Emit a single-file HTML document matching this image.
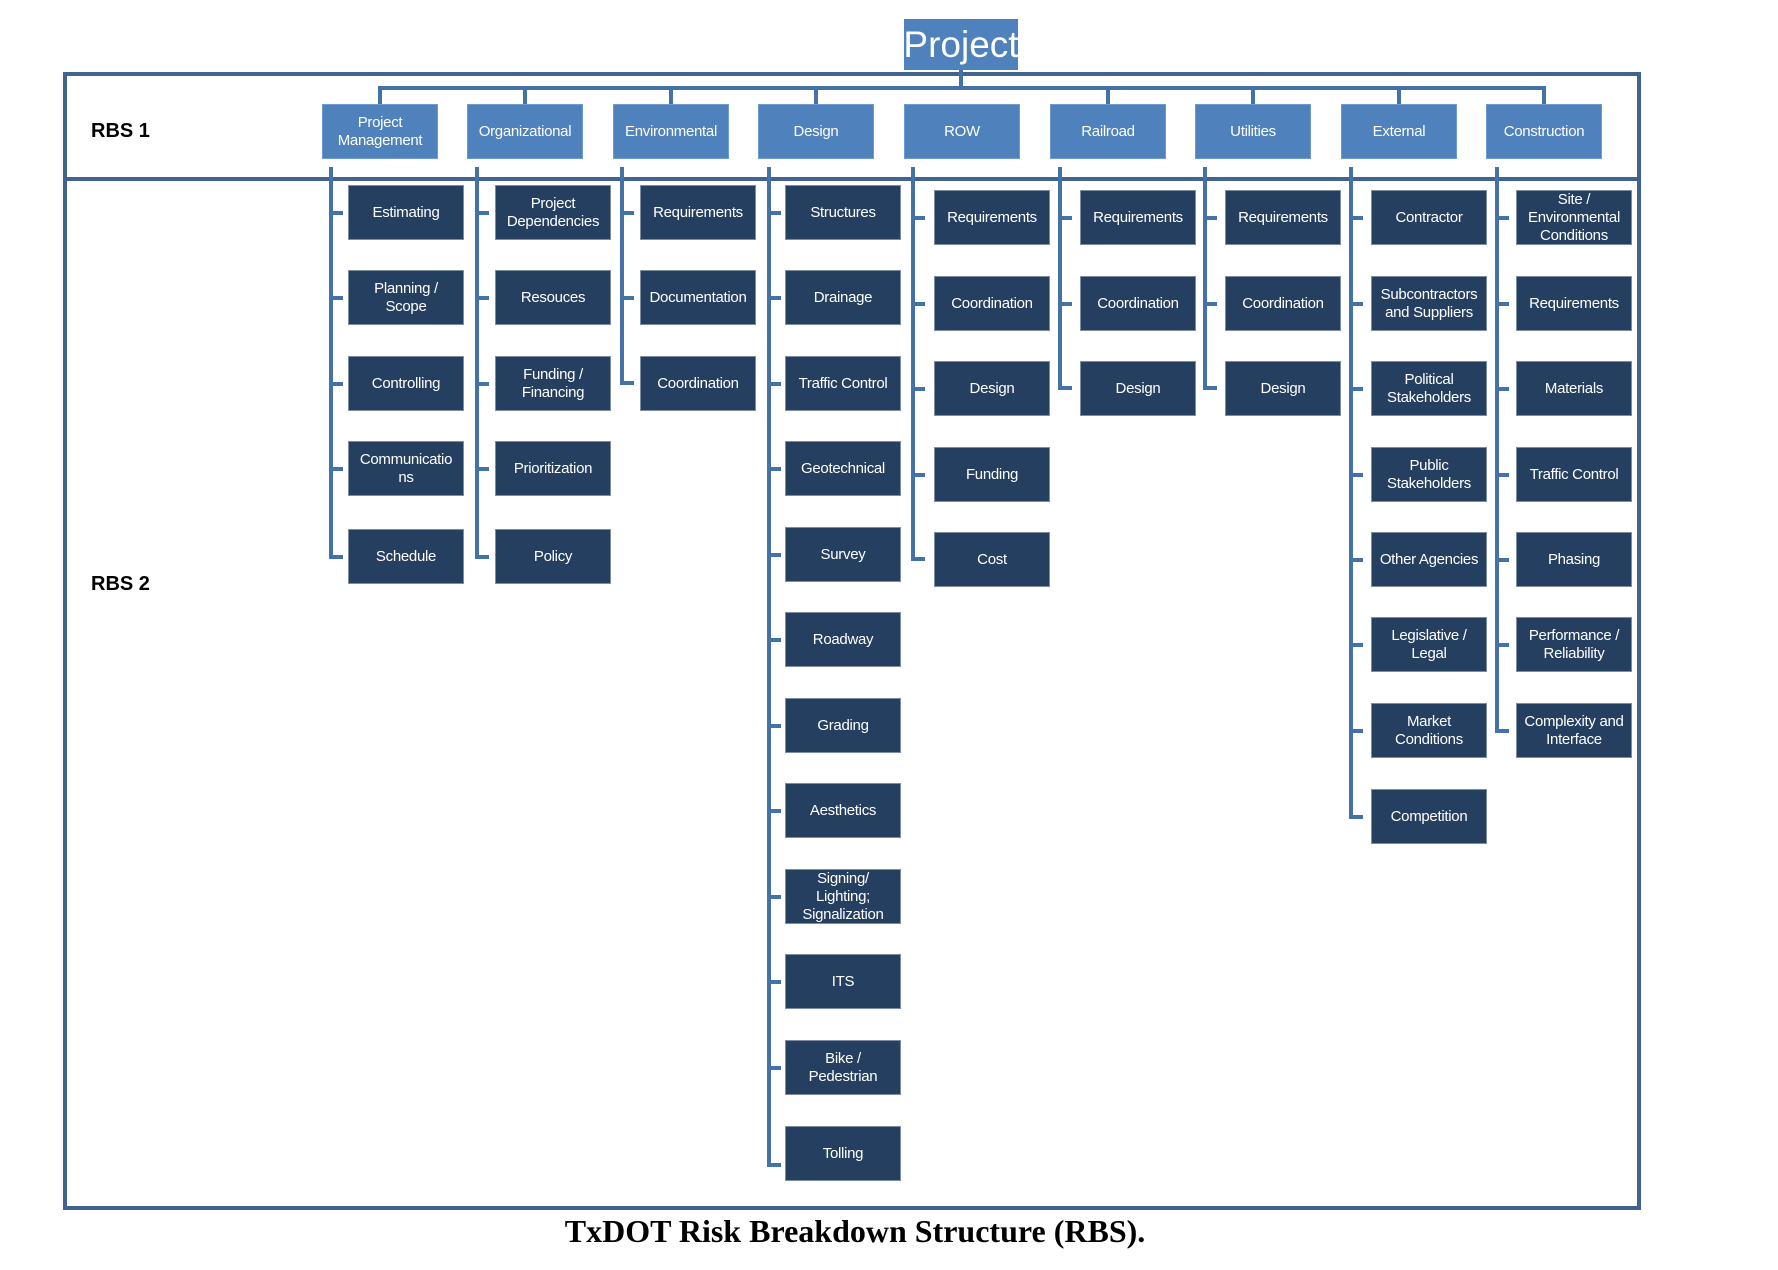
<!DOCTYPE html>
<html><head><meta charset="utf-8"><style>
body{margin:0;width:1778px;height:1270px;background:#fff;position:relative;overflow:hidden;font-family:"Liberation Sans",sans-serif}
div{position:absolute;box-sizing:border-box}
.l{background:#4472a8}
.b1{background:#4f81bd;color:#fff;width:116px;height:55px;display:flex;align-items:center;justify-content:center;text-align:center;font-size:15px;line-height:18px;letter-spacing:-0.3px;border:1px solid #6f9ad0}
.b2{background:#243f60;color:#fff;width:116px;height:55px;display:flex;align-items:center;justify-content:center;text-align:center;font-size:15px;line-height:18px;letter-spacing:-0.3px;border:1px solid #7d8ea3;overflow:visible;white-space:normal}
</style></head><body>
<div style="left:63px;top:72px;width:1578px;height:1138px;border:4px solid #40638f"></div>
<div class="l" style="left:63px;top:177px;width:1578px;height:4px;background:#40638f"></div>
<div style="left:91px;top:120px;font-size:20px;font-weight:bold;color:#000">RBS 1</div>
<div style="left:91px;top:573px;font-size:20px;font-weight:bold;color:#000">RBS 2</div>
<div style="left:904px;top:19px;width:114px;height:51px;background:#4f81bd;color:#fff;font-size:37px;display:flex;align-items:center;justify-content:center">Project</div>
<div class="l" style="left:959px;top:70px;width:4px;height:19px"></div>
<div class="l" style="left:378px;top:86px;width:1168px;height:4px"></div>
<div class="l" style="left:378px;top:86px;width:4px;height:18px"></div>
<div class="l" style="left:523px;top:86px;width:4px;height:18px"></div>
<div class="l" style="left:669px;top:86px;width:4px;height:18px"></div>
<div class="l" style="left:814px;top:86px;width:4px;height:18px"></div>
<div class="l" style="left:1106px;top:86px;width:4px;height:18px"></div>
<div class="l" style="left:1251px;top:86px;width:4px;height:18px"></div>
<div class="l" style="left:1397px;top:86px;width:4px;height:18px"></div>
<div class="l" style="left:1542px;top:86px;width:4px;height:18px"></div>
<div class="b1" style="left:322px;top:104px">Project<br>Management</div>
<div class="b1" style="left:467px;top:104px">Organizational</div>
<div class="b1" style="left:613px;top:104px">Environmental</div>
<div class="b1" style="left:758px;top:104px">Design</div>
<div class="b1" style="left:904px;top:104px">ROW</div>
<div class="b1" style="left:1050px;top:104px">Railroad</div>
<div class="b1" style="left:1195px;top:104px">Utilities</div>
<div class="b1" style="left:1341px;top:104px">External</div>
<div class="b1" style="left:1486px;top:104px">Construction</div>
<div class="l" style="left:329px;top:167px;width:4px;height:392px"></div>
<div class="l" style="left:475px;top:167px;width:4px;height:392px"></div>
<div class="l" style="left:620px;top:167px;width:4px;height:218px"></div>
<div class="l" style="left:767px;top:167px;width:4px;height:1000px"></div>
<div class="l" style="left:911px;top:167px;width:4px;height:394px"></div>
<div class="l" style="left:1058px;top:167px;width:4px;height:223px"></div>
<div class="l" style="left:1203px;top:167px;width:4px;height:223px"></div>
<div class="l" style="left:1349px;top:167px;width:4px;height:652px"></div>
<div class="l" style="left:1495px;top:167px;width:4px;height:566px"></div>
<div class="l" style="left:329px;top:211px;width:14px;height:4px"></div>
<div class="l" style="left:329px;top:296px;width:14px;height:4px"></div>
<div class="l" style="left:329px;top:382px;width:14px;height:4px"></div>
<div class="l" style="left:329px;top:467px;width:14px;height:4px"></div>
<div class="l" style="left:329px;top:555px;width:14px;height:4px"></div>
<div class="l" style="left:475px;top:211px;width:14px;height:4px"></div>
<div class="l" style="left:475px;top:296px;width:14px;height:4px"></div>
<div class="l" style="left:475px;top:382px;width:14px;height:4px"></div>
<div class="l" style="left:475px;top:467px;width:14px;height:4px"></div>
<div class="l" style="left:475px;top:555px;width:14px;height:4px"></div>
<div class="l" style="left:620px;top:211px;width:14px;height:4px"></div>
<div class="l" style="left:620px;top:296px;width:14px;height:4px"></div>
<div class="l" style="left:620px;top:381px;width:14px;height:4px"></div>
<div class="l" style="left:767px;top:211px;width:14px;height:4px"></div>
<div class="l" style="left:767px;top:296px;width:14px;height:4px"></div>
<div class="l" style="left:767px;top:382px;width:14px;height:4px"></div>
<div class="l" style="left:767px;top:467px;width:14px;height:4px"></div>
<div class="l" style="left:767px;top:553px;width:14px;height:4px"></div>
<div class="l" style="left:767px;top:638px;width:14px;height:4px"></div>
<div class="l" style="left:767px;top:724px;width:14px;height:4px"></div>
<div class="l" style="left:767px;top:809px;width:14px;height:4px"></div>
<div class="l" style="left:767px;top:895px;width:14px;height:4px"></div>
<div class="l" style="left:767px;top:980px;width:14px;height:4px"></div>
<div class="l" style="left:767px;top:1066px;width:14px;height:4px"></div>
<div class="l" style="left:767px;top:1163px;width:14px;height:4px"></div>
<div class="l" style="left:911px;top:216px;width:14px;height:4px"></div>
<div class="l" style="left:911px;top:302px;width:14px;height:4px"></div>
<div class="l" style="left:911px;top:387px;width:14px;height:4px"></div>
<div class="l" style="left:911px;top:473px;width:14px;height:4px"></div>
<div class="l" style="left:911px;top:557px;width:14px;height:4px"></div>
<div class="l" style="left:1058px;top:216px;width:14px;height:4px"></div>
<div class="l" style="left:1058px;top:302px;width:14px;height:4px"></div>
<div class="l" style="left:1058px;top:386px;width:14px;height:4px"></div>
<div class="l" style="left:1203px;top:216px;width:14px;height:4px"></div>
<div class="l" style="left:1203px;top:302px;width:14px;height:4px"></div>
<div class="l" style="left:1203px;top:386px;width:14px;height:4px"></div>
<div class="l" style="left:1349px;top:216px;width:14px;height:4px"></div>
<div class="l" style="left:1349px;top:302px;width:14px;height:4px"></div>
<div class="l" style="left:1349px;top:387px;width:14px;height:4px"></div>
<div class="l" style="left:1349px;top:473px;width:14px;height:4px"></div>
<div class="l" style="left:1349px;top:558px;width:14px;height:4px"></div>
<div class="l" style="left:1349px;top:643px;width:14px;height:4px"></div>
<div class="l" style="left:1349px;top:729px;width:14px;height:4px"></div>
<div class="l" style="left:1349px;top:815px;width:14px;height:4px"></div>
<div class="l" style="left:1495px;top:216px;width:14px;height:4px"></div>
<div class="l" style="left:1495px;top:302px;width:14px;height:4px"></div>
<div class="l" style="left:1495px;top:387px;width:14px;height:4px"></div>
<div class="l" style="left:1495px;top:473px;width:14px;height:4px"></div>
<div class="l" style="left:1495px;top:558px;width:14px;height:4px"></div>
<div class="l" style="left:1495px;top:643px;width:14px;height:4px"></div>
<div class="l" style="left:1495px;top:729px;width:14px;height:4px"></div>
<div class="b2" style="left:348px;top:185px">Estimating</div>
<div class="b2" style="left:348px;top:270px">Planning /<br>Scope</div>
<div class="b2" style="left:348px;top:356px">Controlling</div>
<div class="b2" style="left:348px;top:441px">Communicatio<br>ns</div>
<div class="b2" style="left:348px;top:529px">Schedule</div>
<div class="b2" style="left:495px;top:185px">Project<br>Dependencies</div>
<div class="b2" style="left:495px;top:270px">Resouces</div>
<div class="b2" style="left:495px;top:356px">Funding /<br>Financing</div>
<div class="b2" style="left:495px;top:441px">Prioritization</div>
<div class="b2" style="left:495px;top:529px">Policy</div>
<div class="b2" style="left:640px;top:185px">Requirements</div>
<div class="b2" style="left:640px;top:270px">Documentation</div>
<div class="b2" style="left:640px;top:356px">Coordination</div>
<div class="b2" style="left:785px;top:185px">Structures</div>
<div class="b2" style="left:785px;top:270px">Drainage</div>
<div class="b2" style="left:785px;top:356px">Traffic Control</div>
<div class="b2" style="left:785px;top:441px">Geotechnical</div>
<div class="b2" style="left:785px;top:527px">Survey</div>
<div class="b2" style="left:785px;top:612px">Roadway</div>
<div class="b2" style="left:785px;top:698px">Grading</div>
<div class="b2" style="left:785px;top:783px">Aesthetics</div>
<div class="b2" style="left:785px;top:869px">Signing/<br>Lighting;<br>Signalization</div>
<div class="b2" style="left:785px;top:954px">ITS</div>
<div class="b2" style="left:785px;top:1040px">Bike /<br>Pedestrian</div>
<div class="b2" style="left:785px;top:1126px">Tolling</div>
<div class="b2" style="left:934px;top:190px">Requirements</div>
<div class="b2" style="left:934px;top:276px">Coordination</div>
<div class="b2" style="left:934px;top:361px">Design</div>
<div class="b2" style="left:934px;top:447px">Funding</div>
<div class="b2" style="left:934px;top:532px">Cost</div>
<div class="b2" style="left:1080px;top:190px">Requirements</div>
<div class="b2" style="left:1080px;top:276px">Coordination</div>
<div class="b2" style="left:1080px;top:361px">Design</div>
<div class="b2" style="left:1225px;top:190px">Requirements</div>
<div class="b2" style="left:1225px;top:276px">Coordination</div>
<div class="b2" style="left:1225px;top:361px">Design</div>
<div class="b2" style="left:1371px;top:190px">Contractor</div>
<div class="b2" style="left:1371px;top:276px">Subcontractors<br>and Suppliers</div>
<div class="b2" style="left:1371px;top:361px">Political<br>Stakeholders</div>
<div class="b2" style="left:1371px;top:447px">Public<br>Stakeholders</div>
<div class="b2" style="left:1371px;top:532px">Other Agencies</div>
<div class="b2" style="left:1371px;top:617px">Legislative /<br>Legal</div>
<div class="b2" style="left:1371px;top:703px">Market<br>Conditions</div>
<div class="b2" style="left:1371px;top:789px">Competition</div>
<div class="b2" style="left:1516px;top:190px">Site /<br>Environmental<br>Conditions</div>
<div class="b2" style="left:1516px;top:276px">Requirements</div>
<div class="b2" style="left:1516px;top:361px">Materials</div>
<div class="b2" style="left:1516px;top:447px">Traffic Control</div>
<div class="b2" style="left:1516px;top:532px">Phasing</div>
<div class="b2" style="left:1516px;top:617px">Performance /<br>Reliability</div>
<div class="b2" style="left:1516px;top:703px">Complexity and<br>Interface</div>
<div style="left:0;top:1213px;width:1710px;text-align:center;font-family:'Liberation Serif',serif;font-weight:bold;font-size:32px;color:#000">TxDOT Risk Breakdown Structure (RBS).</div>
</body></html>
